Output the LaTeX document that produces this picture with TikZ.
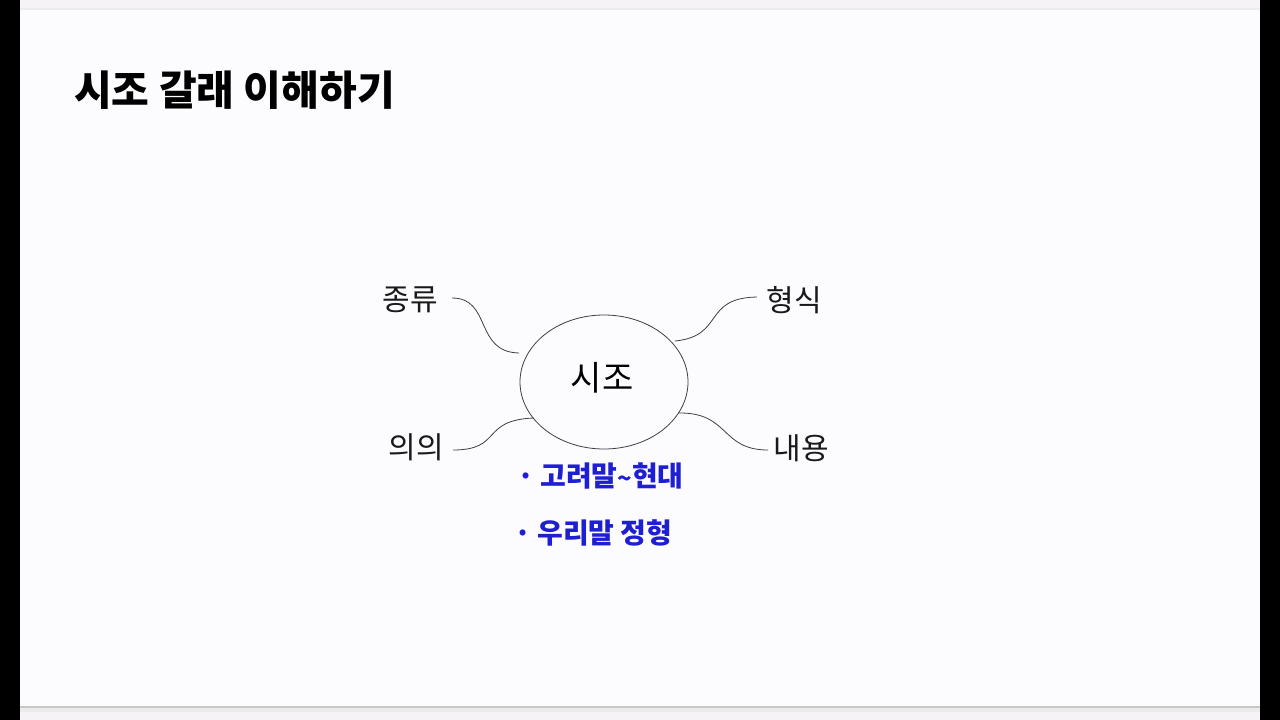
\documentclass[tikz,border=0pt]{standalone}
\usepackage{fontspec}
\usetikzlibrary{shapes.geometric}
\newfontfamily\kr{Noto Sans CJK KR}
\definecolor{slidebg}{HTML}{FCFBFD}
\definecolor{topbg}{HTML}{F5F3F6}
\definecolor{inkblue}{HTML}{1E1ED2}
\tikzset{
  lbl/.style={font=\kr\fontsize{30}{34}\selectfont, inner sep=0pt, text=black!90},
  link/.style={draw=black!75, line width=0.8pt},
  hand/.style={font=\kr\bfseries\fontsize{28}{32}\selectfont, inner sep=0pt, text=inkblue, anchor=west},
}
\begin{document}
\begin{tikzpicture}[x=1pt,y=-1pt]
\useasboundingbox (0,0) rectangle (1280,720);
\fill[black] (0,0) rectangle (1280,720);
\fill[slidebg] (20,0) rectangle (1260,720);
\fill[topbg] (20,0) rectangle (1260,8);
\fill[black!8] (20,8) rectangle (1260,10);
\fill[black!22] (20,706) rectangle (1260,708);
\fill[black!8] (20,708) rectangle (1260,712);
\fill[topbg] (20,712) rectangle (1260,720);

\node[font=\kr\bfseries\fontsize{41}{46}\selectfont, anchor=west, inner sep=0pt] (title) at (74,90) {시조 갈래 이해하기};

\node[draw=black!75, line width=0.8pt, ellipse, minimum width=168, minimum height=134, inner sep=0pt] (sijo) at (604,382) {};
\node[font=\kr\fontsize{34}{38}\selectfont, inner sep=0pt] (sijot) at (602,378) {시조};

\node[lbl] (jr) at (410,300) {종류};
\node[lbl] (hs) at (794,300) {형식};
\node[lbl] (uu) at (416,447) {의의};
\node[lbl] (ny) at (801,448) {내용};

\coordinate (a1) at (452,298);
\coordinate (a2) at (519,353);
\draw[link] (a1) .. controls (492,298) and (474,352) .. (a2);
\coordinate (b1) at (675,341);
\coordinate (b2) at (757,297);
\draw[link] (b1) .. controls (725,336) and (702,298) .. (b2);
\coordinate (c1) at (453,450);
\coordinate (c2) at (534,418);
\draw[link] (c1) .. controls (503,450) and (480,420) .. (c2);
\coordinate (d1) at (678,413);
\coordinate (d2) at (768,450);
\draw[link] (d1) .. controls (730,412) and (720,450) .. (d2);

\node[hand] (h1) at (517,476) {·\hspace{6pt}고려말\raisebox{-1pt}{\fontsize{24}{26}\selectfont\textasciitilde}현대};
\node[hand] (h2) at (514,533) {·\hspace{6pt}우리말 정형};
\end{tikzpicture}
\end{document}
